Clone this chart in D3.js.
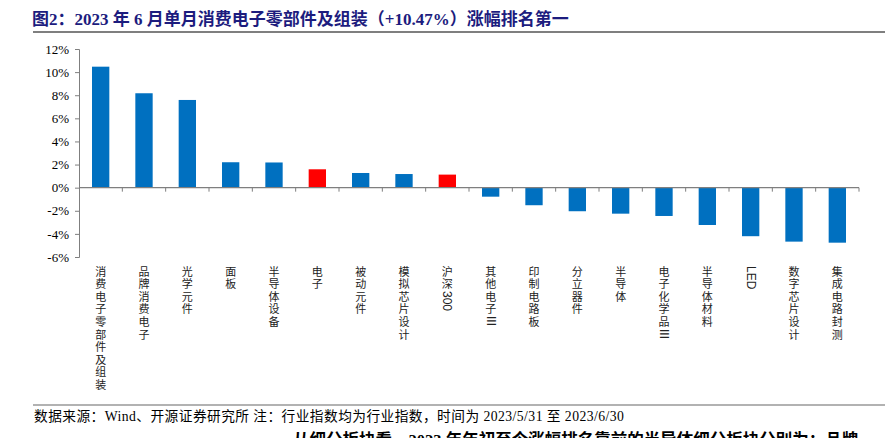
<!DOCTYPE html>
<html>
<head>
<meta charset="utf-8">
<script src="https://cdn.jsdelivr.net/npm/d3@7"></script>
<style>
  body { margin: 0; background: #fff; }
  svg { display: block; }
</style>
</head>
<body>
<svg id="chart"></svg>
<script>
let width = 885
let height = 438

let categories = ["消费电子零部件及组装", "品牌消费电子", "光学元件", "面板", "半导体设备", "电子",
  "被动元件", "模拟芯片设计", "沪深300", "其他电子III", "印制电路板", "分立器件", "半导体",
  "电子化学品III", "半导体材料", "LED", "数字芯片设计", "集成电路封测"]
let values = [10.47, 8.17, 7.59, 2.2, 2.18, 1.59, 1.27, 1.18, 1.13,
  -0.78, -1.52, -2.04, -2.25, -2.45, -3.23, -4.2, -4.67, -4.76]
let redOnes = ["电子", "沪深300"]
let yTicks = [-6, -4, -2, 0, 2, 4, 6, 8, 10, 12]

let svg = d3.select("#chart")
svg.attr("width", width).attr("height", height)

// title
svg.append("text")
  .attr("x", 32)
  .attr("y", 25)
  .attr("fill", "#1c1c7e")
  .style("font-family", "'Liberation Serif', 'Noto Sans CJK SC', serif")
  .style("font-weight", "bold")
  .style("font-size", "17px")
  .text("图2：2023 年 6 月单月消费电子零部件及组装（+10.47%）涨幅排名第一")

svg.append("line")
  .attr("x1", 33).attr("x2", 885)
  .attr("y1", 32).attr("y2", 32)
  .attr("stroke", "#555").attr("stroke-width", 1.5)

let xScale = d3.scaleBand()
  .domain(categories)
  .range([79, 859])
  .paddingInner(0.6)
  .paddingOuter(0.3)

let yScale = d3.scaleLinear()
  .domain([-6, 12])
  .range([257, 49])

// bars
svg.selectAll("rect.bar")
  .data(categories)
  .enter()
  .append("rect")
  .attr("class", "bar")
  .attr("x", (d) => xScale(d))
  .attr("width", xScale.bandwidth())
  .attr("y", (d, i) => yScale(Math.max(0, values[i])))
  .attr("height", (d, i) => Math.abs(yScale(values[i]) - yScale(0)))
  .attr("fill", (d) => redOnes.includes(d) ? "#ff0000" : "#0070c0")

// y axis
let yAxis = d3.axisLeft(yScale)
  .tickValues(yTicks)
  .tickSize(4)
  .tickFormat((d) => d + "%")
let gy = svg.append("g")
  .attr("transform", "translate(79,0)")
  .call(yAxis)
gy.select(".domain").attr("stroke", "#7f7f7f")
gy.selectAll(".tick line").attr("stroke", "#7f7f7f")
gy.selectAll(".tick text")
  .attr("x", -10)
  .attr("fill", "#000")
  .style("font-family", "'Liberation Serif', serif")
  .style("font-size", "13px")

// x axis line at zero, with ticks between categories
let step = xScale.step()
let edges = d3.range(categories.length + 1).map((i) => 79 + i * step)
svg.append("line")
  .attr("x1", 79).attr("x2", 859)
  .attr("y1", yScale(0)).attr("y2", yScale(0))
  .attr("stroke", "#7f7f7f").attr("stroke-width", 1.3)
svg.selectAll("line.xtick")
  .data(edges.slice(1))
  .enter()
  .append("line")
  .attr("class", "xtick")
  .attr("x1", (d) => d).attr("x2", (d) => d)
  .attr("y1", yScale(0)).attr("y2", yScale(0) + 4)
  .attr("stroke", "#7f7f7f")

// vertical category labels, latin runs kept tight
let splitRuns = (s) => s.match(/[A-Za-z0-9]+|[^A-Za-z0-9]+/g)
let labels = svg.selectAll("text.xlab")
  .data(categories)
  .enter()
  .append("text")
  .attr("class", "xlab")
  .attr("x", (d) => xScale(d) + xScale.bandwidth() / 2)
  .attr("y", 266)
  .style("writing-mode", "vertical-rl")
  .style("font-family", "'Noto Sans CJK SC', sans-serif")
  .style("font-size", "11px")
  .attr("fill", "#222")
labels.selectAll("tspan")
  .data((d) => splitRuns(d))
  .enter()
  .append("tspan")
  .style("letter-spacing", (r) => /[A-Za-z0-9]/.test(r) ? "0px" : "1.6px")
  .style("font-family", (r) => /[A-Za-z0-9]/.test(r) ? "'Liberation Sans', sans-serif" : null)
  .style("font-size", (r) => /[A-Za-z0-9]/.test(r) ? "12px" : null)
  .text((r) => r)

// footer
svg.append("line")
  .attr("x1", 33).attr("x2", 885)
  .attr("y1", 405).attr("y2", 405)
  .attr("stroke", "#999").attr("stroke-width", 1.5)

svg.append("text")
  .attr("x", 34)
  .attr("y", 421)
  .style("font-family", "'Liberation Serif', 'Noto Sans CJK SC', serif")
  .style("font-size", "13.7px")
  .style("letter-spacing", "0.45px")
  .attr("fill", "#000")
  .text("数据来源：Wind、开源证券研究所 注：行业指数均为行业指数，时间为 2023/5/31 至 2023/6/30")

svg.append("text")
  .attr("x", 293)
  .attr("y", 446)
  .style("font-family", "'Liberation Serif', 'Noto Sans CJK SC', serif")
  .style("font-weight", "bold")
  .style("font-size", "16.5px")
  .attr("fill", "#000")
  .text("从细分板块看，2023 年年初至今涨幅排名靠前的半导体细分板块分别为：品牌")
</script>
</body>
</html>
